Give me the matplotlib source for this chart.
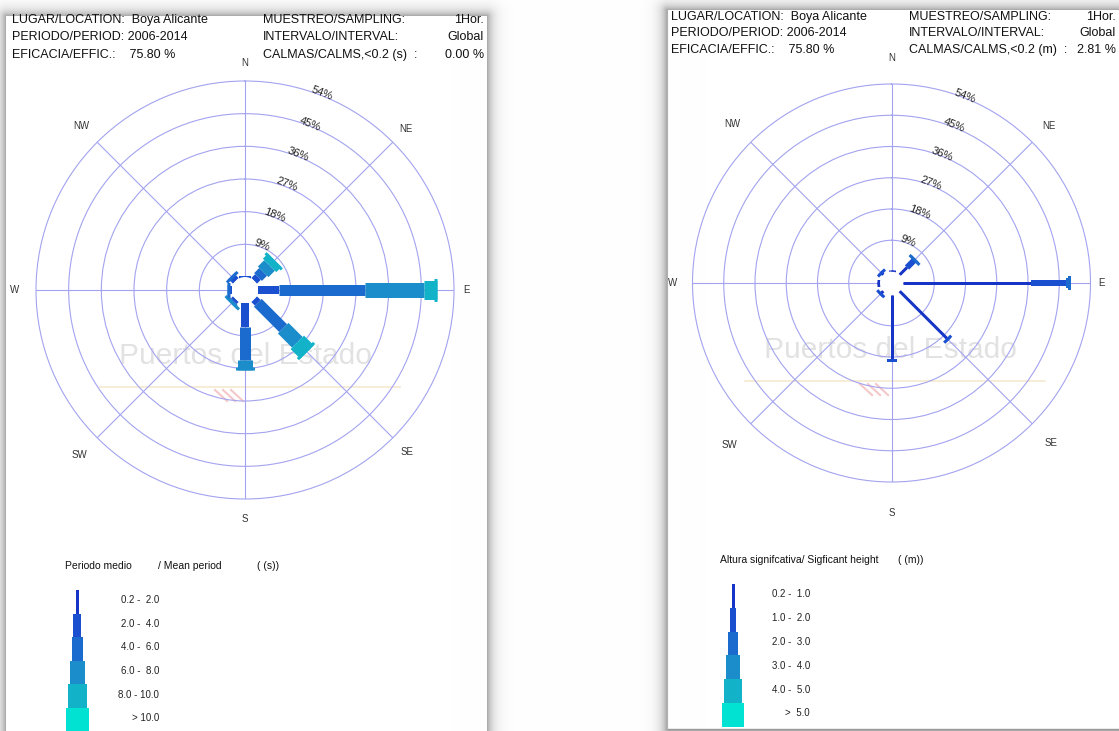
import numpy as np
import matplotlib
matplotlib.use('Agg')
import matplotlib.pyplot as plt
from matplotlib.patches import Rectangle

W, H = 1119, 731
DPI = 100
plt.rcParams['font.family'] = ['Liberation Sans', 'DejaVu Sans']

# ---------------- data ----------------
directions = ['N', 'NE', 'E', 'SE', 'S', 'SW', 'W', 'NW']
dir_deg = [0, 45, 90, 135, 180, 225, 270, 315]
ring_values = [9, 18, 27, 36, 45, 54]

# Mean period (s) frequency (%) per direction, one list per class
period_labels = ['0.2 -  2.0', '2.0 -  4.0', '4.0 -  6.0', '6.0 -  8.0', '8.0 - 10.0', '> 10.0']
tp_02_2 = [0.0, 0.0, 0.0, 0.0, 0.0, 0.0, 0.0, 0.0]
tp_2_4 = [0.2, 1.5, 5.8, 1.4, 6.6, 0.8, 1.0, 1.5]
tp_4_6 = [0.0, 2.0, 23.6, 9.9, 9.1, 0.5, 0.3, 0.3]
tp_6_8 = [0.0, 2.5, 16.3, 5.5, 2.7, 0.5, 0.0, 0.0]
tp_8_10 = [0.0, 2.0, 3.6, 3.8, 0.0, 0.0, 0.0, 0.0]
tp_gt10 = [0.0, 0.0, 0.0, 0.0, 0.0, 0.0, 0.0, 0.0]

# Significant height (m) frequency (%) per direction, one list per class
height_labels = ['0.2 -  1.0', '1.0 -  2.0', '2.0 -  3.0', '3.0 -  4.0', '4.0 -  5.0', '>  5.0']
hs_02_1 = [0.5, 3.0, 36.8, 19.5, 19.0, 1.2, 0.8, 1.0]
hs_1_2 = [0.0, 3.0, 10.2, 0.5, 0.5, 0.3, 0.0, 0.2]
hs_2_3 = [0.0, 0.5, 1.5, 0.0, 0.0, 0.0, 0.0, 0.0]
hs_3_4 = [0.0, 0.0, 0.0, 0.0, 0.0, 0.0, 0.0, 0.0]
hs_4_5 = [0.0, 0.0, 0.0, 0.0, 0.0, 0.0, 0.0, 0.0]
hs_gt5 = [0.0, 0.0, 0.0, 0.0, 0.0, 0.0, 0.0, 0.0]

class_colors = ['#1634c6', '#1a4fd0', '#1b6bcf', '#1a8dca', '#12b3c9', '#02e2d2']
left_widths_px = [3, 8, 11, 15, 19, 23]
right_widths_px = [3, 6, 10, 14, 18, 22]

left_header = [("LUGAR/LOCATION:  Boya Alicante", "MUESTREO/SAMPLING:", "1Hor."),
               ("PERIODO/PERIOD: 2006-2014", "INTERVALO/INTERVAL:", "Global"),
               ("EFICACIA/EFFIC.:    75.80 %", "CALMAS/CALMS,<0.2 (s)  :", "0.00 %")]
right_header = [("LUGAR/LOCATION:  Boya Alicante", "MUESTREO/SAMPLING:", "1Hor."),
                ("PERIODO/PERIOD: 2006-2014", "INTERVALO/INTERVAL:", "Global"),
                ("EFICACIA/EFFIC.:    75.80 %", "CALMAS/CALMS,<0.2 (m)  :", "2.81 %")]

GRID = '#a3a3f0'
PX2PT = 72.0 / DPI

fig = plt.figure(figsize=(W / DPI, H / DPI), dpi=DPI)
fig.patch.set_facecolor('white')

# ---- background with panel shadows ----
yy, xx = np.mgrid[0:H, 0:W]
shade = np.zeros((H, W))
for (x0, y0, x1, y1) in [(6, 16, 486, 760), (667, 10, 1140, 729)]:
    dx = np.maximum(np.maximum(x0 - xx, xx - x1), 0)
    dy = np.maximum(np.maximum(y0 - yy, yy - y1), 0)
    d = np.hypot(dx, dy)
    s = 0.38 * np.exp(-d / 6.0)
    s[(xx >= x0) & (xx <= x1) & (yy >= y0) & (yy <= y1)] = 0
    shade = np.maximum(shade, s)
bg = np.ones((H, W, 3)) * (1 - shade)[..., None]
fig.figimage(bg, 0, 0, origin='upper', zorder=-5)

deco = fig.add_axes([0, 0, 1, 1], zorder=1)
deco.set_xlim(0, W)
deco.set_ylim(H, 0)
deco.axis('off')
deco.patch.set_alpha(0)
deco.plot([667, 1119], [729, 729], color='#9a9a9a', lw=1.0)
deco.plot([667, 667], [10, 729], color='#b0b0b0', lw=0.8)


def header(x0, xm, xr, y0, dy, rows):
    for i, (a, b, c) in enumerate(rows):
        y = y0 + i * dy
        deco.text(x0, y, a, fontsize=9, va='center', ha='left', zorder=3, color='#111111')
        deco.text(xm, y, b, fontsize=9, va='center', ha='left', zorder=3, color='#111111')
        deco.text(xr, y, c, fontsize=9, va='center', ha='right', zorder=3, color='#111111')


header(12, 263, 484, 20, 17.5, left_header)
header(671, 909, 1116, 17, 16.5, right_header)


def watermark(cx, cy):
    deco.text(cx, cy, 'Puertos del Estado', fontsize=21.5, color='#e2e2e2', ha='center',
              va='center', zorder=2)
    deco.plot([cx - 145, cx + 155], [cy + 31, cy + 31], color='#f6ead0', lw=1.2, zorder=2)
    for k in range(3):
        deco.plot([cx - 30 + 8 * k, cx - 18 + 8 * k], [cy + 34, cy + 45], color='#f4c8c8',
                  lw=1.5, zorder=2)


watermark(245, 356)
watermark(890, 350)


def rose(cx, cy, R, r0, classes, widths, label_r_px):
    scale = (R - r0) / 54.0
    ax = fig.add_axes([(cx - R) / W, 1 - (cy + R) / H, 2 * R / W, 2 * R / H],
                      projection='polar', zorder=5)
    ax.patch.set_alpha(0)
    ax.set_theta_zero_location('N')
    ax.set_theta_direction(-1)
    ax.set_ylim(0, 54)
    ax.set_rorigin(-r0 / scale)
    ax.set_rticks(ring_values[:-1])
    ax.set_yticklabels([])
    ax.set_thetagrids(dir_deg, labels=[''] * 8)
    ax.grid(True, color=GRID, lw=0.8)
    ax.spines['polar'].set_color(GRID)
    ax.spines['polar'].set_linewidth(0.8)
    for sp in ('inner', 'start', 'end'):
        ax.spines[sp].set_color('none')
        ax.spines[sp].set_linewidth(0)
    ax.tick_params(length=0)
    for v in ring_values:
        ax.text(np.deg2rad(21.5), v + 0.6, f'{v}%', rotation=-21.5, ha='center', va='center',
                fontsize=8, color='#222222', clip_on=False)
    for d, a, rp in zip(directions, dir_deg, label_r_px):
        ax.text(np.deg2rad(a), (rp - r0) / scale, d, ha='center', va='center', fontsize=7,
                color='#333333', clip_on=False)
    for j, a in enumerate(dir_deg):
        th = np.deg2rad(a)
        start = 0.0
        last = None
        for k, cls in enumerate(classes):
            v = cls[j]
            if v <= 0:
                continue
            ax.plot([th, th], [start, start + v], color=class_colors[k],
                    lw=widths[k] * PX2PT, solid_capstyle='butt', zorder=4)
            start += v
            last = k
        if last is not None:
            cap = 3.0 / scale
            ax.plot([th, th], [start - cap, start], color=class_colors[last],
                    lw=(widths[last] + 4) * PX2PT, solid_capstyle='butt', zorder=4)
    return ax


rose(245, 290, 209, 13, [tp_02_2, tp_2_4, tp_4_6, tp_6_8, tp_8_10, tp_gt10],
     left_widths_px, [227, 228, 222, 229, 229, 234, 230, 232])
rose(891.5, 283, 199, 11.5, [hs_02_1, hs_1_2, hs_2_3, hs_3_4, hs_4_5, hs_gt5],
     right_widths_px, [225, 222, 210, 226, 230, 229, 219, 225])


def legend(title_parts, y_title, xc, y_top, seg_h, widths, labels, x_lab):
    for x, t in title_parts:
        deco.text(x, y_title, t, fontsize=7.5, ha='left', va='center', zorder=3,
                  color='#111111')
    for k, (w, lab) in enumerate(zip(widths, labels)):
        y = y_top + k * seg_h
        deco.add_patch(Rectangle((xc - w / 2, y), w, seg_h, facecolor=class_colors[k],
                                 edgecolor='none', zorder=3))
        deco.text(x_lab, y + seg_h / 2 - 1.5, lab, fontsize=7, ha='right', va='center',
                  zorder=3, color='#222222')


legend([(65, 'Periodo medio'), (158, '/ Mean period'), (257, '( (s))')], 566,
       77, 590, 23.6, left_widths_px, period_labels, 159)
legend([(720, 'Altura signifcativa/ Sigficant height'), (898, '( (m))')], 560,
       733, 584, 23.8, right_widths_px, height_labels, 810)

fig.savefig('out.png', dpi=DPI)
